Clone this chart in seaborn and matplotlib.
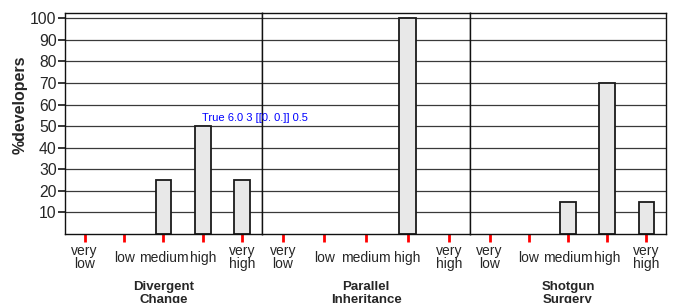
#recreate %developers bar chart for three smells

import pandas as pd
import matplotlib
matplotlib.use('Agg')
import matplotlib.pyplot as plt
import seaborn as sns

levels = ['very\nlow', 'low', 'medium', 'high', 'very\nhigh']
smells = ['Divergent\nChange', 'Parallel\nInheritance', 'Shotgun\nSurgery']
divergent_change = [0, 0, 25, 50, 25]
parallel_inheritance = [0, 0, 0, 100, 0]
shotgun_surgery = [0, 0, 15, 70, 15]
yticks = [10, 20, 30, 40, 50, 60, 70, 80, 90, 100]


def main():
    sns.set_style('white')
    plt.rcParams['font.family'] = ['Liberation Sans', 'DejaVu Sans']

    fig, axes = plt.subplots(1, 3, figsize=(6.73, 3.03), dpi=100, sharey=True,
                             gridspec_kw={'width_ratios': [197, 208, 196], 'wspace': 0})
    fig.subplots_adjust(left=65/673, right=666/673, top=1-12.7/303, bottom=1-234/303)

    series = [divergent_change, parallel_inheritance, shotgun_surgery]
    for i, ax in enumerate(axes):
        df = pd.DataFrame({'level': levels, 'pct': series[i]})
        df = df[df.pct > 0]
        sns.barplot(data=df, x='level', y='pct', order=levels, ax=ax, width=0.4,
                    color='#e8e8e8', saturation=1, edgecolor='#1a1a1a', linewidth=1.3)
        ax.set_ylim(0, 102.6)
        ax.set_xlim(-0.5, 4.5)
        ax.set_yticks(yticks)
        ax.yaxis.grid(True, color='#3a3a3a', linewidth=0.9)
        for s in ax.spines.values():
            s.set_color('#111111')
            s.set_linewidth(1.0)
        ax.set_ylabel('')
        ax.set_xlabel(smells[i], fontsize=9.5, fontweight='bold', labelpad=7, linespacing=1.1)
        ax.tick_params(axis='x', bottom=True, direction='out', length=6, width=2,
                       pad=11, labelsize=10, color='red')
        for lab in ax.get_xticklabels():
            lab.set_verticalalignment('center')
            lab.set_linespacing(0.95)
        if i == 0:
            ax.tick_params(axis='y', left=True, direction='out', length=5, width=1.1, pad=1,
                           labelsize=11.3, color='black')
        else:
            ax.tick_params(axis='y', left=False, labelleft=False)

    fig.text(20/673, 1-105/303, '%developers', rotation=90, ha='center', va='center',
             fontsize=11.5, fontweight='bold')

    fig.canvas.draw()
    t = axes[0].xaxis.get_major_ticks()[0]
    fig.text(0.3, 0.6, f"{t.tick1line.get_visible()} {t.tick1line.get_markersize()} "
             f"{t.tick1line.get_marker()} {t.tick1line.get_xydata()} {axes[0].xaxis.get_zorder()}",
             fontsize=8, color='blue')

    plt.savefig('out.png', dpi=100)


if __name__ == '__main__':
    main()
